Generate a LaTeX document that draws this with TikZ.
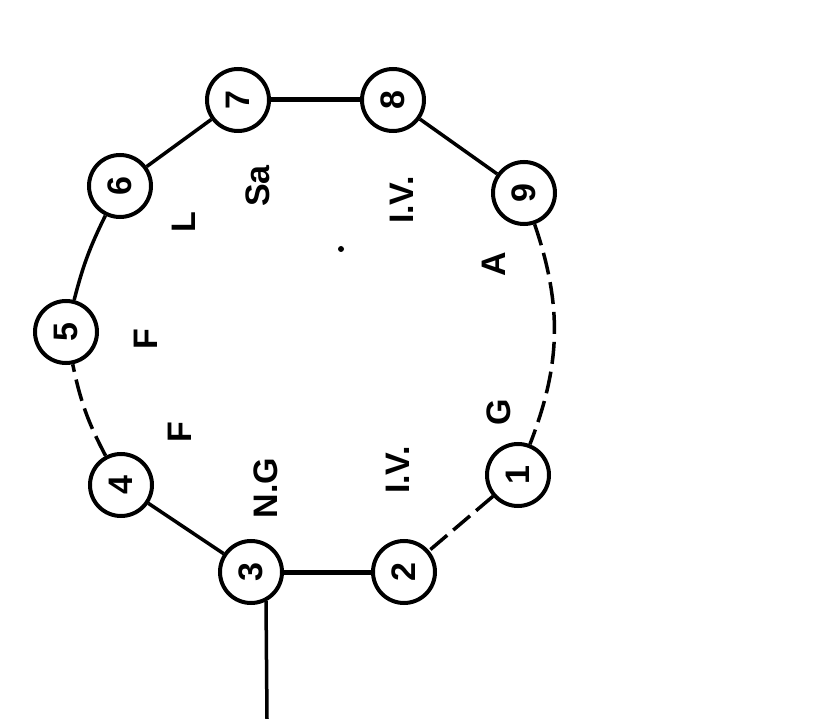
\documentclass[tikz,border=0pt]{standalone}
\usepackage{fontspec}
\setmainfont{Liberation Sans}
\begin{document}
\begin{tikzpicture}[x=1pt,y=-1pt,
  num/.style={circle,draw,line width=4pt,minimum size=62pt,inner sep=0pt,font=\bfseries\fontsize{34}{34}\selectfont,rotate=90},
  lab/.style={font=\bfseries\fontsize{34}{34}\selectfont,rotate=90,inner sep=0pt},
  link/.style={line width=3.5pt},
  thick link/.style={line width=5pt},
  broken/.style={line width=3.5pt,dash pattern=on 22pt off 8pt}]
\useasboundingbox (0,0) rectangle (814,719);
\node[num] (n7) at (238,100) {7};
\node[num] (n8) at (393,100) {8};
\node[num] (n9) at (524,193) {9};
\node[num] (n1) at (518,475) {1};
\node[num] (n2) at (404,572) {2};
\node[num] (n3) at (251,572) {3};
\node[num] (n4) at (121,485) {4};
\node[num] (n5) at (66,332) {5};
\node[num] (n6) at (120,186) {6};
\coordinate (join) at (266,601);
\coordinate (tail) at (267,719);
\draw[thick link] (n7) -- (n8);
\draw[link] (n8) -- (n9);
\draw[broken] (n9) to[bend left=20] (n1);
\draw[broken] (n1) -- (n2);
\draw[thick link] (n2) -- (n3);
\draw[link] (n3) -- (n4);
\draw[broken] (n4) to[bend left=8] (n5);
\draw[link] (n5) to[bend left=6] (n6);
\draw[link] (n6) -- (n7);
\draw[link] (join) -- (tail);
\node[lab] (sa) at (258,186) {Sa};
\node[lab] (iv1) at (402,200) {I.V.};
\node[lab] (a) at (494,264) {A};
\node[lab] (l) at (184,222) {L};
\node[lab] (f1) at (146,339) {F};
\node[lab] (f2) at (180,432) {F};
\node[lab] (ng) at (266,488) {N.G};
\node[lab] (iv2) at (398,470) {I.V.};
\node[lab] (g) at (499,412) {G};
\node[circle,fill,inner sep=0pt,minimum size=6pt] (dot) at (341,249) {};
\end{tikzpicture}
\end{document}
